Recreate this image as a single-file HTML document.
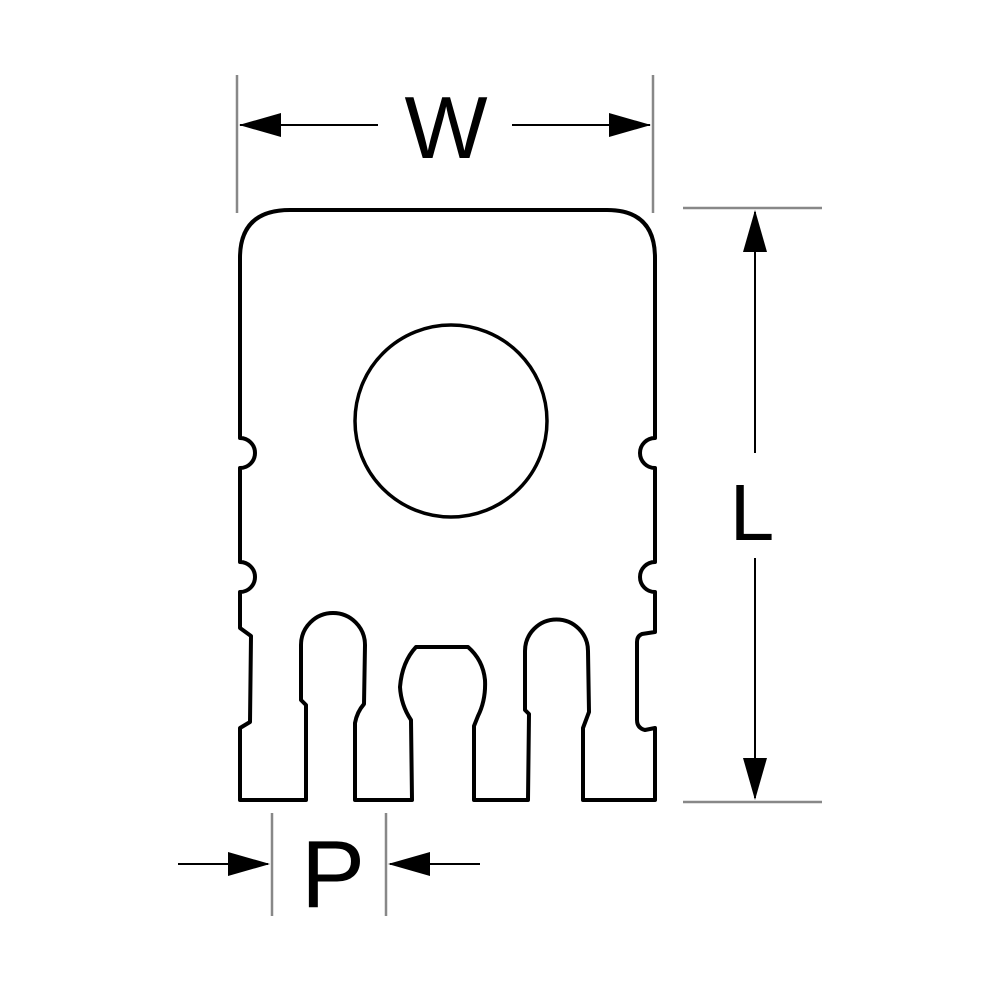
<!DOCTYPE html>
<html><head><style>html,body{margin:0;padding:0;background:#fff}</style></head><body>
<svg width="1000" height="1000" viewBox="0 0 1000 1000" xmlns="http://www.w3.org/2000/svg">
<g fill="none" stroke="#000" stroke-width="4" stroke-linejoin="round">
<path d="M240,800 L240,728 L250,722 L251,636 L240,628 L240,592 A15,15 0 0 0 240,562 L240,468 A15,15 0 0 0 240,438 L240,258 Q240,210 290,210 L607,210 Q655,210 655,258 L655,438 A15,15 0 0 0 655,468 L655,562 A15,15 0 0 0 655,592 L655,632 L642,634 Q637,636 637,642 L637,720 Q637,728 645,730 L655,728 L655,800 L583,800 L583,728 L589,712 L588,651 A31.5,31.5 0 0 0 525,651 L525,710 L529,714 L528,800 L474,800 L474,726 L478,716 Q486,700 485,680 Q483,660 468,647 L416,647 Q402,662 400,687 Q401,705 411,720 L412,800 L355,800 L355,723 Q357,712 364,704 L365,645 A32,32 0 0 0 301,645 L301,700 L306,705 L306,800 Z"/>
<circle cx="451" cy="421" r="96" stroke-width="3.5"/>
</g>
<g stroke="#888" stroke-width="2.5">
<line x1="237" y1="75" x2="237" y2="213"/>
<line x1="653" y1="75" x2="653" y2="213"/>
<line x1="683" y1="208" x2="822" y2="208"/>
<line x1="683" y1="802" x2="822" y2="802"/>
<line x1="272" y1="813" x2="272" y2="916"/>
<line x1="386" y1="813" x2="386" y2="916"/>
</g>
<g stroke="#000" stroke-width="2">
<line x1="240" y1="125" x2="378" y2="125"/>
<line x1="512" y1="125" x2="650" y2="125"/>
<line x1="755" y1="212" x2="755" y2="453"/>
<line x1="755" y1="558" x2="755" y2="798"/>
<line x1="178" y1="864" x2="268" y2="864"/>
<line x1="390" y1="864" x2="480" y2="864"/>
</g>
<g fill="#000">
<polygon points="239,125 281,113 281,137"/>
<polygon points="651,125 609,113 609,137"/>
<polygon points="755,210 743,252 767,252"/>
<polygon points="755,800 743,758 767,758"/>
<polygon points="270,864 228,852 228,876"/>
<polygon points="388,864 430,852 430,876"/>
</g>
<g font-family="Liberation Sans, sans-serif" fill="#000" text-anchor="middle">
<text x="446" y="158" font-size="88">W</text>
<text x="752" y="540" font-size="80">L</text>
<text x="333" y="907" font-size="96">P</text>
</g>
</svg>
</body></html>
